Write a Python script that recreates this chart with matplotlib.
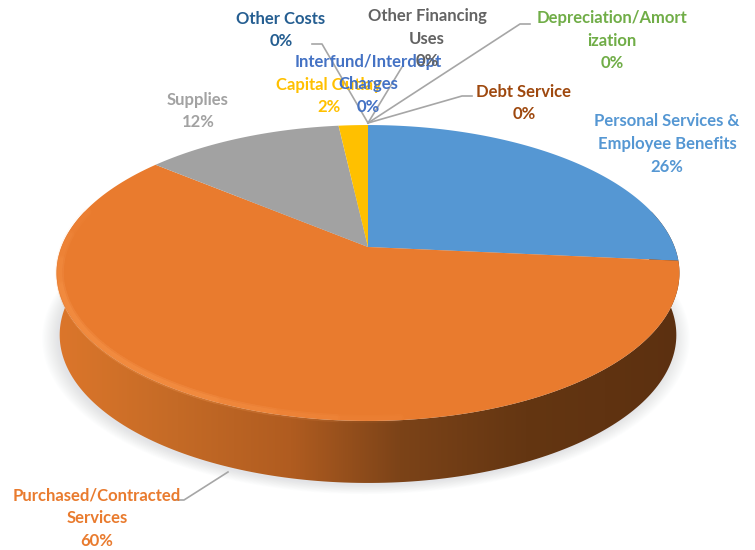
import numpy as np
import matplotlib
matplotlib.use("Agg")
import matplotlib.pyplot as plt
from matplotlib.patches import Polygon
from matplotlib.colors import LinearSegmentedColormap

plt.rcParams['font.family'] = ['Lato', 'DejaVu Sans']

categories = ["Personal Services &\nEmployee Benefits", "Purchased/Contracted\nServices", "Supplies",
              "Capital Outlay", "Interfund/Interdept\nCharges", "Other Costs",
              "Other Financing\nUses", "Depreciation/Amort\nization", "Debt Service"]
shares = [26.5, 59.5, 12.2, 1.8, 0, 0, 0, 0, 0]
percent_labels = ["26%", "60%", "12%", "2%", "0%", "0%", "0%", "0%", "0%"]
colors = ["#5597d3", "#e97b2e", "#a2a2a2", "#ffc000", "#4472c4", "#255e91", "#636363", "#70ad47", "#9e480e"]
label_pos = [(667, 144), (97, 518), (198, 111), (329, 96), (368, 84), (281, 30), (427, 39), (612, 41), (524, 103)]


def project(theta, r=1.0, dy=0.0, sx=1.0):
    # tilted disc, flat circle -> pixels
    u = r * np.cos(theta)
    v = r * np.sin(theta)
    w = 1 + 0.1757 * v
    return 368 + sx * 306.6 * u / w, (247 - 100 * v) / w + dy


fig, ax = plt.subplots(figsize=(7.55, 5.5), dpi=100)
fig.subplots_adjust(0, 0, 1, 1)
ax.set_xlim(0, 755)
ax.set_ylim(550, 0)
ax.axis("off")

# soft shadow under the pie
t = np.linspace(0, 2 * np.pi, 240)
for grow in np.linspace(1.0, 1.05, 14):
    x, y = project(t, dy=62, sx=0.99)
    ax.fill(366 + (x - 368) * grow, 300 + (y - 300) * grow + 2, color="#a8b0c0", alpha=0.022, lw=0, zorder=1)

# side wall with a left to right gradient
tf = np.linspace(np.radians(165), np.radians(375), 200)
xt, yt = project(tf)
xb, yb = project(tf, dy=62, sx=0.99)
outline = np.column_stack([np.r_[xt, xb[::-1]], np.r_[yt, yb[::-1]]])
side_cmap = LinearSegmentedColormap.from_list(
    "side", [(0, "#dd772b"), (0.2, "#c46a26"), (0.38, "#b05c20"), (0.55, "#7c4318"), (0.75, "#643612"), (1, "#5c3010")])
img = ax.imshow(np.linspace(0, 1, 256)[None, :], extent=(50, 685, 550, 0), cmap=side_cmap, aspect="auto", zorder=2)
img.set_clip_path(Polygon(outline, transform=ax.transData))
ax.set_xlim(0, 755)
ax.set_ylim(550, 0)

# slices on top, clockwise from twelve o'clock
edges = 90 - 3.6 * np.cumsum([0] + shares)
for i, share in enumerate(shares):
    if share == 0:
        continue
    th = np.radians(np.linspace(edges[i], edges[i + 1], 150))
    x, y = project(th)
    ax.fill(np.r_[368, x], np.r_[247, y], color=colors[i], lw=0, zorder=3)

# bevel highlight along the front left of the rim, fading out at both ends
for end, alpha in [(275, 0.05), (265, 0.07), (255, 0.08), (245, 0.08)]:
    rim = np.radians(np.linspace(440 - end, end, 100))
    for width in [6, 3.5]:
        x, y = project(rim, r=0.99)
        ax.plot(x, y, color="#ffa45c", lw=width, alpha=alpha, solid_capstyle="round", zorder=3.5)

# leader lines
leaders = [[(312, 44), (322, 44), (368, 123)],
           [(402, 67), (368, 123)],
           [(530, 24), (520, 24), (368, 123)],
           [(472, 96), (462, 96), (368, 123)],
           [(175, 500), (184, 500), (228, 472)]]
for pts in leaders:
    ax.plot(*zip(*pts), color="#a6a6a6", lw=1.2, zorder=4)

for name, pct, c, (lx, ly) in zip(categories, percent_labels, colors, label_pos):
    ax.text(lx, ly, name + "\n" + pct, color=c, fontsize=12, fontweight="bold", ha="center", va="center",
            linespacing=1.5, zorder=5)

fig.savefig("out.png", dpi=100)
